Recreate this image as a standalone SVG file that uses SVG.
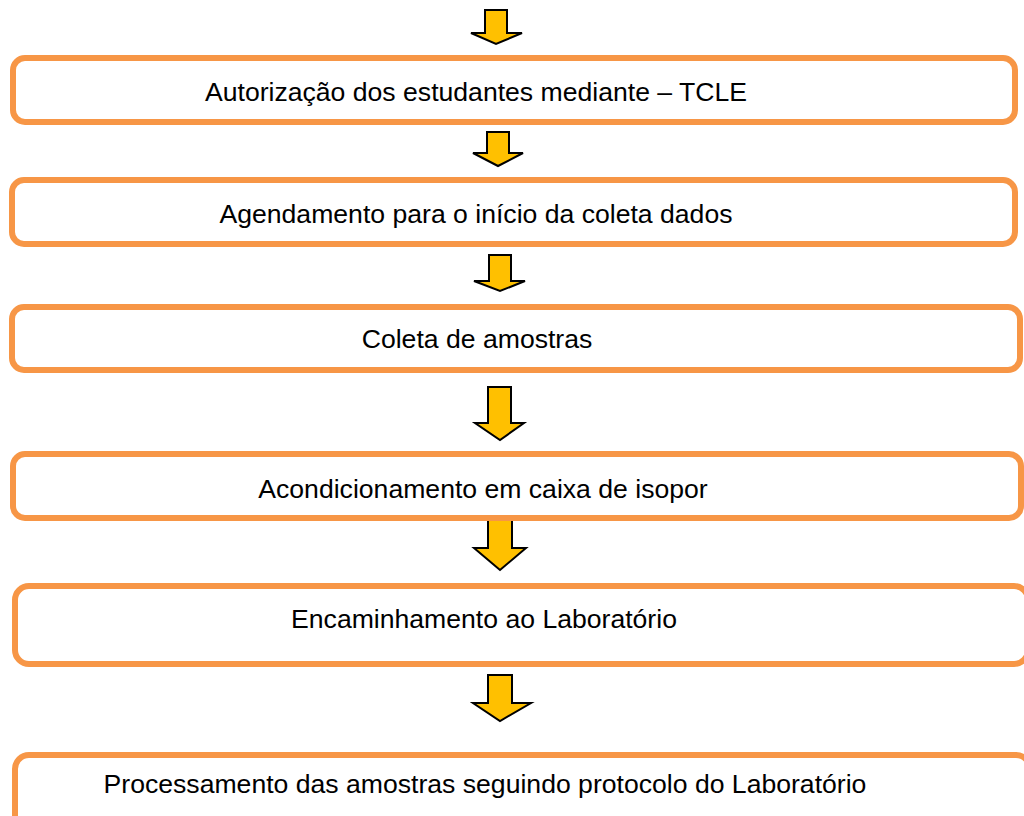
<svg xmlns="http://www.w3.org/2000/svg" width="1024" height="816" viewBox="0 0 1024 816">
<style>
.box{fill:#fff;stroke:#F79646;stroke-width:6}
.arr{fill:#FFC000;stroke:#000;stroke-width:2;stroke-linejoin:miter}
.t{font-family:"Liberation Sans",Arial,sans-serif;font-size:26.6px;fill:#000;text-anchor:middle}
</style>
<rect width="1024" height="816" fill="#fff"/>
<g id="connectors">
<polygon class="arr" points="485,10 507,10 507,33 522,33 496,44 471,33 485,33"/>
<polygon class="arr" points="487,132 509,132 509,153 523,153 498,166 473,153 487,153"/>
<polygon class="arr" points="489,255 511,255 511,281 525,281 500,291 474,281 489,281"/>
<polygon class="arr" points="488,387 511,387 511,423 524,423 500,440 475,423 488,423"/>
<polygon class="arr" points="488,519 512,519 512,548 526,548 500,570 474,548 488,548"/>
<polygon class="arr" points="488,675 512,675 512,703 531,703 500,721 473,703 488,703"/>
</g>
<g id="n1"><rect class="box" x="13" y="58" width="1002" height="64" rx="12"/><text class="t" x="476" y="101">Autorização dos estudantes mediante – TCLE</text></g>
<g id="n2"><rect class="box" x="12" y="180" width="1003" height="64" rx="12"/><text class="t" x="476" y="223">Agendamento para o início da coleta dados</text></g>
<g id="n3"><rect class="box" x="12" y="307" width="1008" height="63" rx="12"/><text class="t" x="477" y="348">Coleta de amostras</text></g>
<g id="n4"><rect class="box" x="13" y="454" width="1008" height="64" rx="12"/><text class="t" x="483" y="498">Acondicionamento em caixa de isopor</text></g>
<g id="n5"><rect class="box" x="15" y="586" width="1013" height="78" rx="14"/><text class="t" x="484" y="628">Encaminhamento ao Laboratório</text></g>
<g id="n6"><rect class="box" x="15" y="755" width="1015" height="80" rx="14"/><text class="t" x="485" y="793">Processamento das amostras seguindo protocolo do Laboratório</text></g>
</svg>
